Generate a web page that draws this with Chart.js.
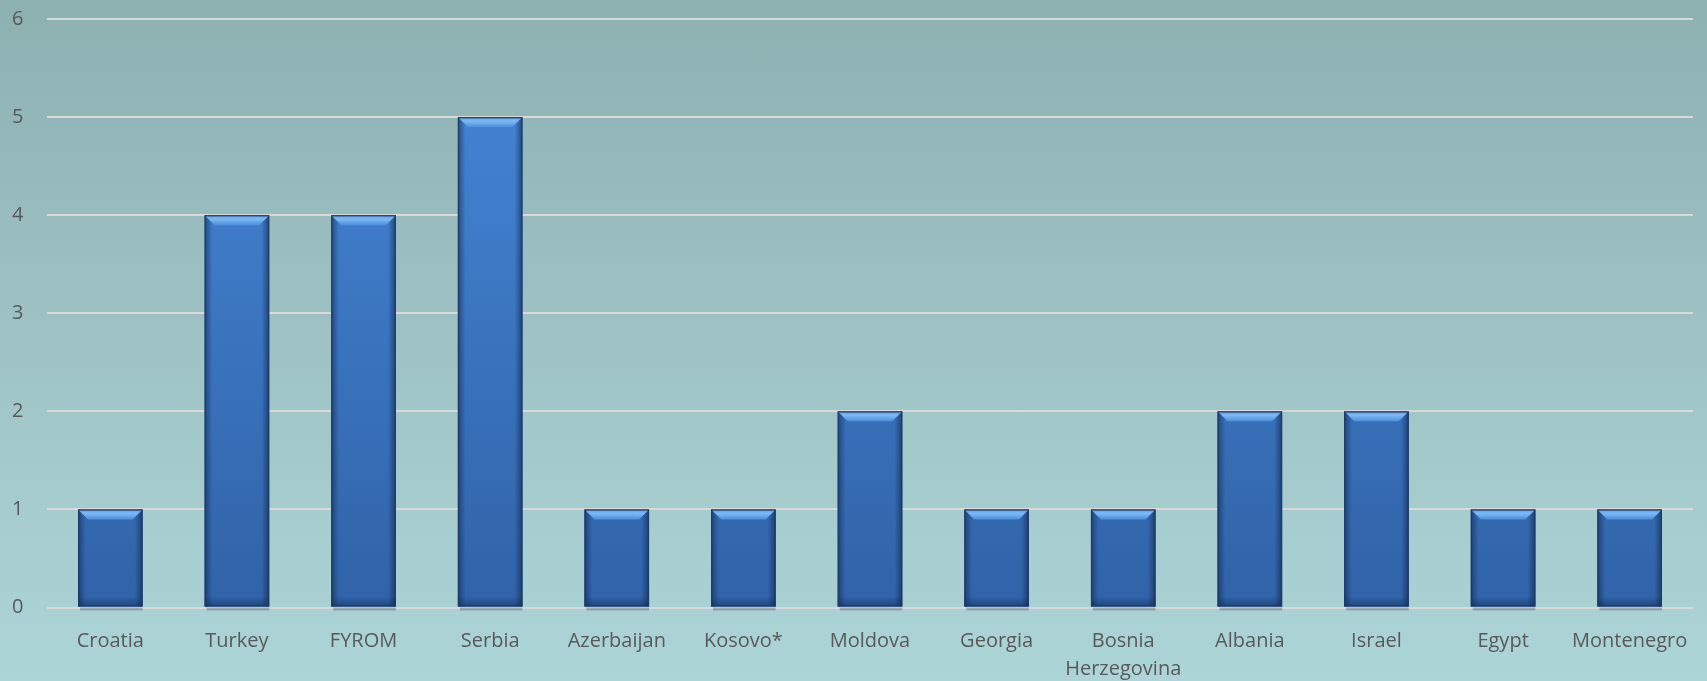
<!DOCTYPE html>
<html>
<head>
<meta charset="utf-8">
<script src="https://cdn.jsdelivr.net/npm/chart.js@4.4.1/dist/chart.umd.min.js"></script>
<style>
  html, body { margin: 0; padding: 0; }
  #wrap {
    width: 1707px; height: 681px;
    background: linear-gradient(to bottom, #8db0b1 0%, #9fc3c5 50%, #acd5d7 100%);
  }
</style>
</head>
<body>
<div id="wrap"><canvas id="barChart"></canvas></div>
<script>
// Dados

const categories = ['Croatia', 'Turkey', 'FYROM', 'Serbia', 'Azerbaijan', 'Kosovo*', 'Moldova',
    'Georgia', ['Bosnia', 'Herzegovina'], 'Albania', 'Israel', 'Egypt', 'Montenegro'];
const counts = [1, 4, 4, 5, 1, 1, 2, 1, 1, 2, 2, 1, 1];
const yMin = 0;
const yMax = 6;
const yStep = 1;

// bar body: vertical blue gradient
function barFill(context) {
    const chart = context.chart;
    const area = chart.chartArea;
    if (!area) return '#3a74c0';
    const g = chart.ctx.createLinearGradient(0, area.top, 0, area.bottom);
    g.addColorStop(0, '#4688d9');
    g.addColorStop(1, '#3063a8');
    return g;
}

// bevel / edges on top of the bars
const bevelPlugin = {
    id: 'bevel',
    beforeDatasetsDraw(chart) {
        const ctx = chart.ctx;
        const meta = chart.getDatasetMeta(0);
        ctx.save();
        meta.data.forEach(bar => {
            const w = bar.width;
            const left = bar.x - w / 2;
            // soft shadow under the bar
            ctx.fillStyle = 'rgba(60,80,90,0.35)';
            ctx.fillRect(left + 2, bar.base + 1, w - 2, 3);
        });
        ctx.restore();
    },
    afterDatasetsDraw(chart) {
        const ctx = chart.ctx;
        const meta = chart.getDatasetMeta(0);
        ctx.save();
        meta.data.forEach(bar => {
            const w = bar.width;
            const left = bar.x - w / 2;
            const right = bar.x + w / 2;
            const top = bar.y;
            const base = bar.base;
            const b = 10;

            // dark side edges
            let g = ctx.createLinearGradient(left, 0, right, 0);
            g.addColorStop(0, 'rgba(15,35,70,0.55)');
            g.addColorStop(0.12, 'rgba(15,35,70,0)');
            g.addColorStop(0.88, 'rgba(15,35,70,0)');
            g.addColorStop(1, 'rgba(15,35,70,0.6)');
            ctx.fillStyle = g;
            ctx.fillRect(left, top, w, base - top);

            // bottom darkening
            g = ctx.createLinearGradient(0, base - b, 0, base);
            g.addColorStop(0, 'rgba(15,35,70,0)');
            g.addColorStop(1, 'rgba(15,35,70,0.45)');
            ctx.fillStyle = g;
            ctx.fillRect(left, base - b, w, b);

            // top bevel
            g = ctx.createLinearGradient(0, top, 0, top + b);
            g.addColorStop(0, '#5b9ce6');
            g.addColorStop(0.4, '#7cbaf5');
            g.addColorStop(1, '#4d8edc');
            ctx.fillStyle = g;
            ctx.beginPath();
            ctx.moveTo(left, top);
            ctx.lineTo(right, top);
            ctx.lineTo(right - b, top + b);
            ctx.lineTo(left + b, top + b);
            ctx.closePath();
            ctx.fill();

            // outline
            ctx.strokeStyle = '#1c3b66';
            ctx.lineWidth = 1.2;
            ctx.strokeRect(left + 0.6, top + 0.6, w - 1.2, base - top - 1.2);
        });
        ctx.restore();
    }
};

const data = {
    labels: categories,
    datasets: [
        {
            label: 'Count',
            backgroundColor: barFill,
            borderWidth: 0,
            data: counts,
            categoryPercentage: 1,
            barPercentage: 0.51
        }
    ]
};

// Configurações

const config = {
    type: 'bar',
    data: data,
    options: {
        responsive: true,
        maintainAspectRatio: false,
        devicePixelRatio: 1,
        animation: false,
        layout: {
            padding: { left: 12, right: 14, top: 0, bottom: 0 }
        },
        plugins: {
            legend: { display: false },
            tooltip: { enabled: false }
        },
        scales: {
            x: {
                grid: { display: false },
                border: { display: false },
                ticks: {
                    color: '#595959',
                    font: { family: 'Open Sans', size: 20, lineHeight: 1.4 },
                    maxRotation: 0,
                    autoSkip: false,
                    padding: 12
                },
                afterFit(scale) { scale.height = 73.5; }
            },
            y: {
                min: yMin,
                max: yMax,
                border: { display: false },
                grid: { color: '#d9d9d9', lineWidth: 2, drawTicks: false },
                ticks: {
                    stepSize: yStep,
                    color: '#595959',
                    font: { family: 'Open Sans', size: 20, lineHeight: 0.9 },
                    crossAlign: 'far',
                    padding: 10
                },
                afterFit(scale) { scale.width = 35; }
            }
        }
    },
    plugins: [bevelPlugin]
};

// Inicialização

const ctx = document.getElementById('barChart').getContext('2d');
const myChart = new Chart(ctx, config);
</script>
</body>
</html>
